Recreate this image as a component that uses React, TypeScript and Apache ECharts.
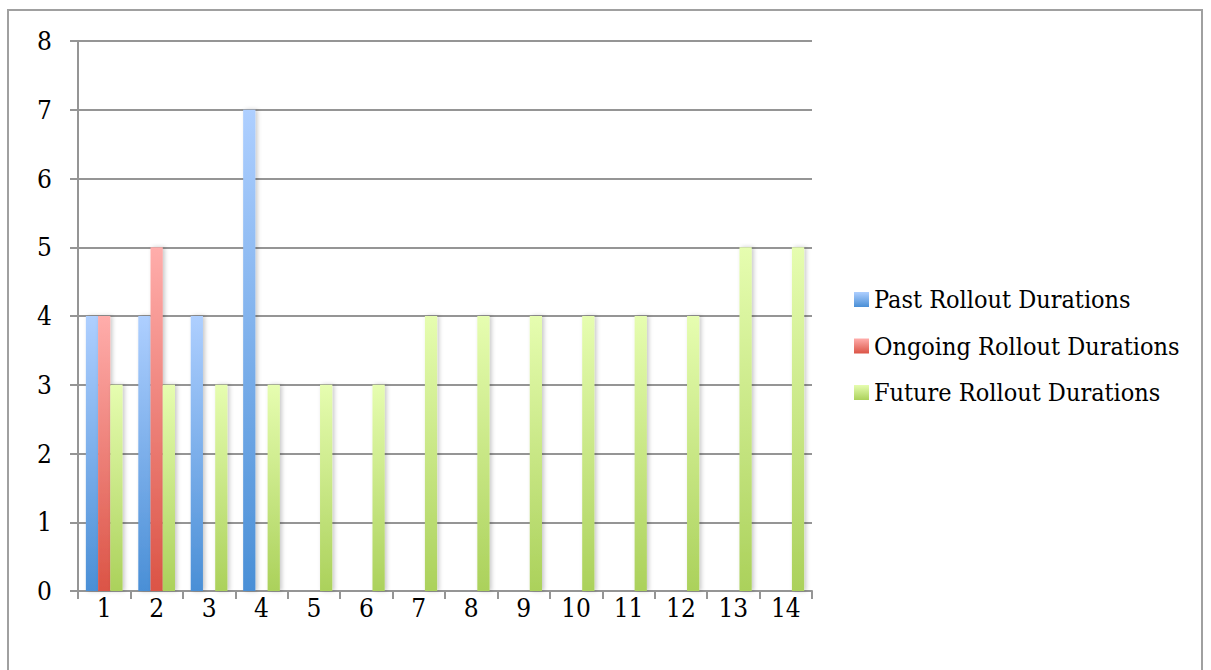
import React, { useEffect, useRef } from "react";
import * as echarts from "echarts";

const categories = ["1", "2", "3", "4", "5", "6", "7", "8", "9", "10", "11", "12", "13", "14"];
const pastDurations: (number | null)[] = [4, 4, 4, 7, null, null, null, null, null, null, null, null, null, null];
const ongoingDurations: (number | null)[] = [4, 5, null, null, null, null, null, null, null, null, null, null, null, null];
const futureDurations: number[] = [3, 3, 3, 3, 3, 3, 4, 4, 4, 4, 4, 4, 5, 5];

const FONT = "'DejaVu Serif Condensed', 'DejaVu Serif', serif";
const LEGEND_FONT_SIZE = 25;
const AXIS_FONT_SIZE = 26;
const GRID_COLOR = "#959595";

function grad(top: string, bottom: string) {
  return new echarts.graphic.LinearGradient(0, 0, 0, 1, [
    { offset: 0, color: top },
    { offset: 1, color: bottom },
  ]);
}

const barShadow = {
  shadowColor: "rgba(0,0,0,0.22)",
  shadowBlur: 4,
  shadowOffsetX: 2,
  shadowOffsetY: 0,
};

export default function App() {
  const ref = useRef<HTMLDivElement>(null);

  useEffect(() => {
    if (!ref.current) return;
    const chart = echarts.init(ref.current, null, { renderer: "svg" });
    chart.setOption({
      animation: false,
      backgroundColor: "#ffffff",
      graphic: [
        {
          type: "rect",
          shape: { x: 8, y: 10, width: 1194, height: 700 },
          style: { fill: "none", stroke: "#a0a0a0", lineWidth: 2 },
          silent: true,
        },
      ],
      grid: { left: 78, right: 399, top: 41, bottom: 79, containLabel: false },
      legend: {
        orient: "vertical",
        left: 849,
        top: 282,
        itemWidth: 15,
        itemHeight: 15,
        itemGap: 21.5,
        icon: "rect",
        textStyle: { fontFamily: FONT, fontSize: LEGEND_FONT_SIZE, color: "#000", lineHeight: 22 },
        data: ["Past Rollout Durations", "Ongoing Rollout Durations", "Future Rollout Durations"],
      },
      xAxis: {
        type: "category",
        data: categories,
        boundaryGap: true,
        axisLine: { show: true, lineStyle: { color: GRID_COLOR, width: 2 } },
        axisTick: { show: true, length: 8, alignWithLabel: false, lineStyle: { color: GRID_COLOR, width: 2 } },
        axisLabel: { fontFamily: FONT, fontSize: AXIS_FONT_SIZE, color: "#000", margin: 4 },
        splitLine: { show: false },
      },
      yAxis: {
        type: "value",
        min: 0,
        max: 8,
        interval: 1,
        axisLine: { show: true, lineStyle: { color: GRID_COLOR, width: 2 } },
        axisTick: { show: true, length: 8, lineStyle: { color: GRID_COLOR, width: 2 } },
        axisLabel: { fontFamily: FONT, fontSize: AXIS_FONT_SIZE, color: "#000", margin: 26 },
        splitLine: { show: true, lineStyle: { color: GRID_COLOR, width: 2 } },
      },
      series: [
        {
          name: "Past Rollout Durations",
          type: "bar",
          data: pastDurations,
          barGap: "0%",
          barCategoryGap: "30%",
          itemStyle: { color: grad("#aecfff", "#4a8fd6"), ...barShadow },
        },
        {
          name: "Ongoing Rollout Durations",
          type: "bar",
          data: ongoingDurations,
          barGap: "0%",
          barCategoryGap: "30%",
          itemStyle: { color: grad("#ffadab", "#db5446"), ...barShadow },
        },
        {
          name: "Future Rollout Durations",
          type: "bar",
          data: futureDurations,
          barGap: "0%",
          barCategoryGap: "30%",
          itemStyle: { color: grad("#e6fdb0", "#abd15b"), ...barShadow },
        },
      ],
    });
    return () => chart.dispose();
  }, []);

  return (
    <div
      ref={ref}
      style={{ position: "fixed", left: 0, top: 0, width: 1211, height: 670 }}
    />
  );
}
